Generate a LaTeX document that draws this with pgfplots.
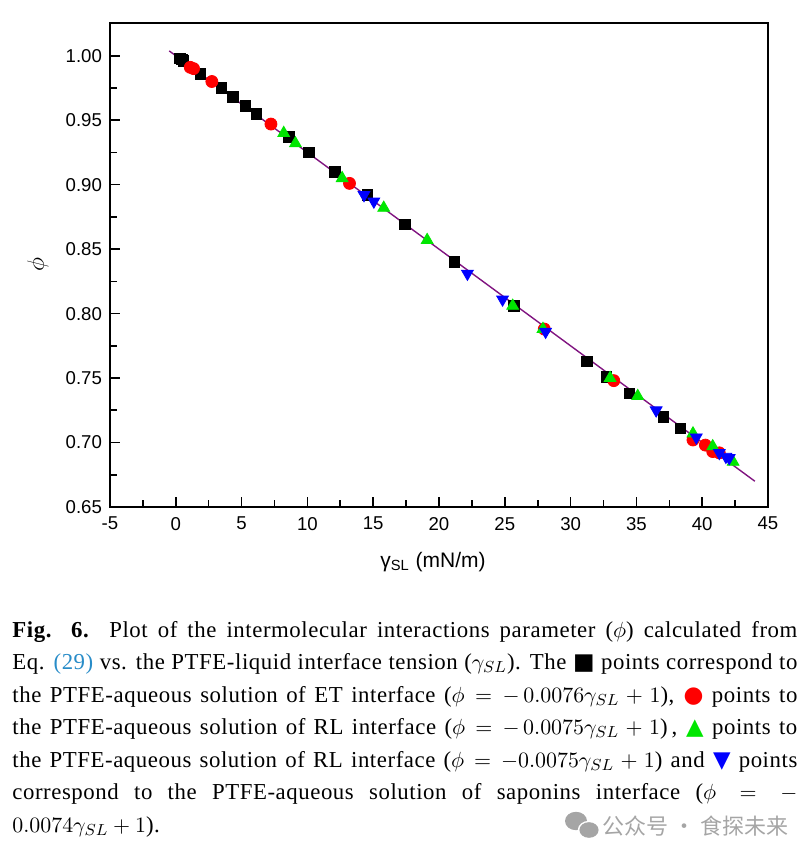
\documentclass[border=0pt]{standalone}
\usepackage{fontspec}
\setmainfont{Liberation Serif}
\newfontfamily\arial{Liberation Sans}
\newfontfamily\dejavu{DejaVu Sans}
\newfontfamily\cjk{Noto Sans CJK SC}
\usepackage{pgfplots}
\pgfplotsset{compat=1.18}
\definecolor{purp}{RGB}{128,20,128}
\definecolor{mgreen}{RGB}{0,230,0}
\definecolor{mblue}{RGB}{0,0,255}
\definecolor{mred}{RGB}{255,0,0}
\definecolor{linkblue}{RGB}{40,140,200}
\definecolor{wm}{RGB}{165,165,165}

\pgfplotstableread{
x y
0.30 0.998
0.45 0.997
0.60 0.996
1.85 0.986
3.45 0.975
4.34 0.968
5.28 0.961
6.12 0.955
8.58 0.937
10.1 0.925
12.08 0.910
14.54 0.892
17.4 0.869
21.15 0.840
25.7 0.806
31.25 0.763
32.7 0.751
34.47 0.738
37.06 0.720
38.33 0.711
}\etdata

\pgfplotstableread{
x y
1.10 0.991
1.35 0.990
2.74 0.980
7.23 0.947
13.2 0.901
28.0 0.788
33.28 0.748
39.3 0.702
40.24 0.698
40.8 0.693
41.3 0.692
}\rldata

\pgfplotstableread{
x y
8.2 0.940
9.09 0.932
12.64 0.905
15.8 0.882
19.1 0.857
25.6 0.806
27.9 0.788
33.0 0.750
35.1 0.736
39.3 0.707
40.8 0.697
42.35 0.685
}\rlbdata

\pgfplotstableread{
x y
14.3 0.892
15.05 0.887
22.16 0.831
24.83 0.811
28.1 0.786
36.5 0.725
39.55 0.704
41.3 0.692
41.8 0.689
42.05 0.688
}\sapdata

\begin{document}
\begin{tikzpicture}
\begin{axis}[name=ax, at={(0,0)}, anchor=south west,
  scale only axis, width=329pt, height=242pt,
  xmin=-5, xmax=45, ymin=0.65, ymax=1.0254,
  xtick={-5,0,5,10,15,20,25,30,35,40,45},
  xticklabels={-5,0,5,10,15,20,25,30,35,40,45},
  ytick={0.65,0.70,0.75,0.80,0.85,0.90,0.95,1.00},
  yticklabels={0.65,0.70,0.75,0.80,0.85,0.90,0.95,1.00},
  minor x tick num=1, minor y tick num=1,
  tick align=inside, xtick pos=left, ytick pos=left,
  major tick length=5pt, minor tick length=3.3pt,
  axis line style={line width=0.85pt},
  every tick/.append style={black, line width=0.8pt},
  ticklabel style={font=\arial\fontsize{9.3}{11}\selectfont},
  xticklabel style={yshift=-1.5pt},
  yticklabel style={xshift=-0.5pt},
  xlabel={\arial\fontsize{10.5}{12}\selectfont γ\textsubscript{SL} (mN/m)},
  xlabel style={at={(axis description cs:0.5,0)}, anchor=center, yshift=-27.5pt, xshift=-3pt},
  ylabel={\fontsize{12}{14}\selectfont$\phi$},
  ylabel style={at={(axis description cs:0,0.5)}, anchor=center, rotate=0, yshift=36pt},
]
\addplot[only marks, mark=square*, mark size=2.6pt, black] table {\etdata};
\addplot[only marks, mark=*, mark size=3pt, mred] table {\rldata};
\addplot[only marks, mark=triangle*, mark size=3.4pt, mgreen] table {\rlbdata};
\addplot[only marks, mark=triangle*, mark size=3.4pt, mblue, mark options={rotate=180}] table {\sapdata};
\addplot[purp, line width=0.7pt, no marks] coordinates {(-0.5,1.00375) (44,0.67)};
\end{axis}

\node[anchor=north west, inner sep=0pt, text width=392.5pt, align=justify,
      font=\fontsize{11.4}{16.25}\selectfont\addfontfeatures{LetterSpace=2.5}] at (-49pt,-53.45pt) {\strut\textbf{Fig. 6.} Plot of the intermolecular interactions parameter ($\phi$) calculated from\linebreak
Eq. \textcolor{linkblue}{(29)} vs. the PTFE-liquid interface tension ($\gamma_{SL}$). The {\dejavu ■} points correspond to\linebreak
the PTFE-aqueous solution of ET interface ($\phi = -\,0.0076\gamma_{SL}+1$), \textcolor{mred}{\dejavu ●} points to\linebreak
the PTFE-aqueous solution of RL interface ($\phi = -\,0.0075\gamma_{SL}+1$)\,, \textcolor{mgreen}{\dejavu ▲} points to\linebreak
the PTFE-aqueous solution of RL interface ($\phi=-0.0075\gamma_{SL}+1$) and \textcolor{mblue}{\dejavu ▼} points\linebreak
correspond to the PTFE-aqueous solution of saponins interface ($\phi = -$\linebreak
$0.0074\gamma_{SL}+1$).};

\fill[wm] (233pt,-157pt) ellipse [x radius=5.5pt, y radius=4.6pt];
\fill[white] (239.5pt,-161.5pt) ellipse [x radius=5.6pt, y radius=4.6pt];
\fill[wm] (239.5pt,-161.5pt) ellipse [x radius=4.8pt, y radius=3.9pt];
\node[anchor=west, inner sep=0pt, text=wm, font=\cjk\fontsize{11}{13}\selectfont] at (246pt,-159.5pt) {公众号 · 食探未来};

\pgfresetboundingbox
\path[use as bounding box] (-55pt,-171.5pt) rectangle (348.5pt,253.5pt);
\end{tikzpicture}
\end{document}
